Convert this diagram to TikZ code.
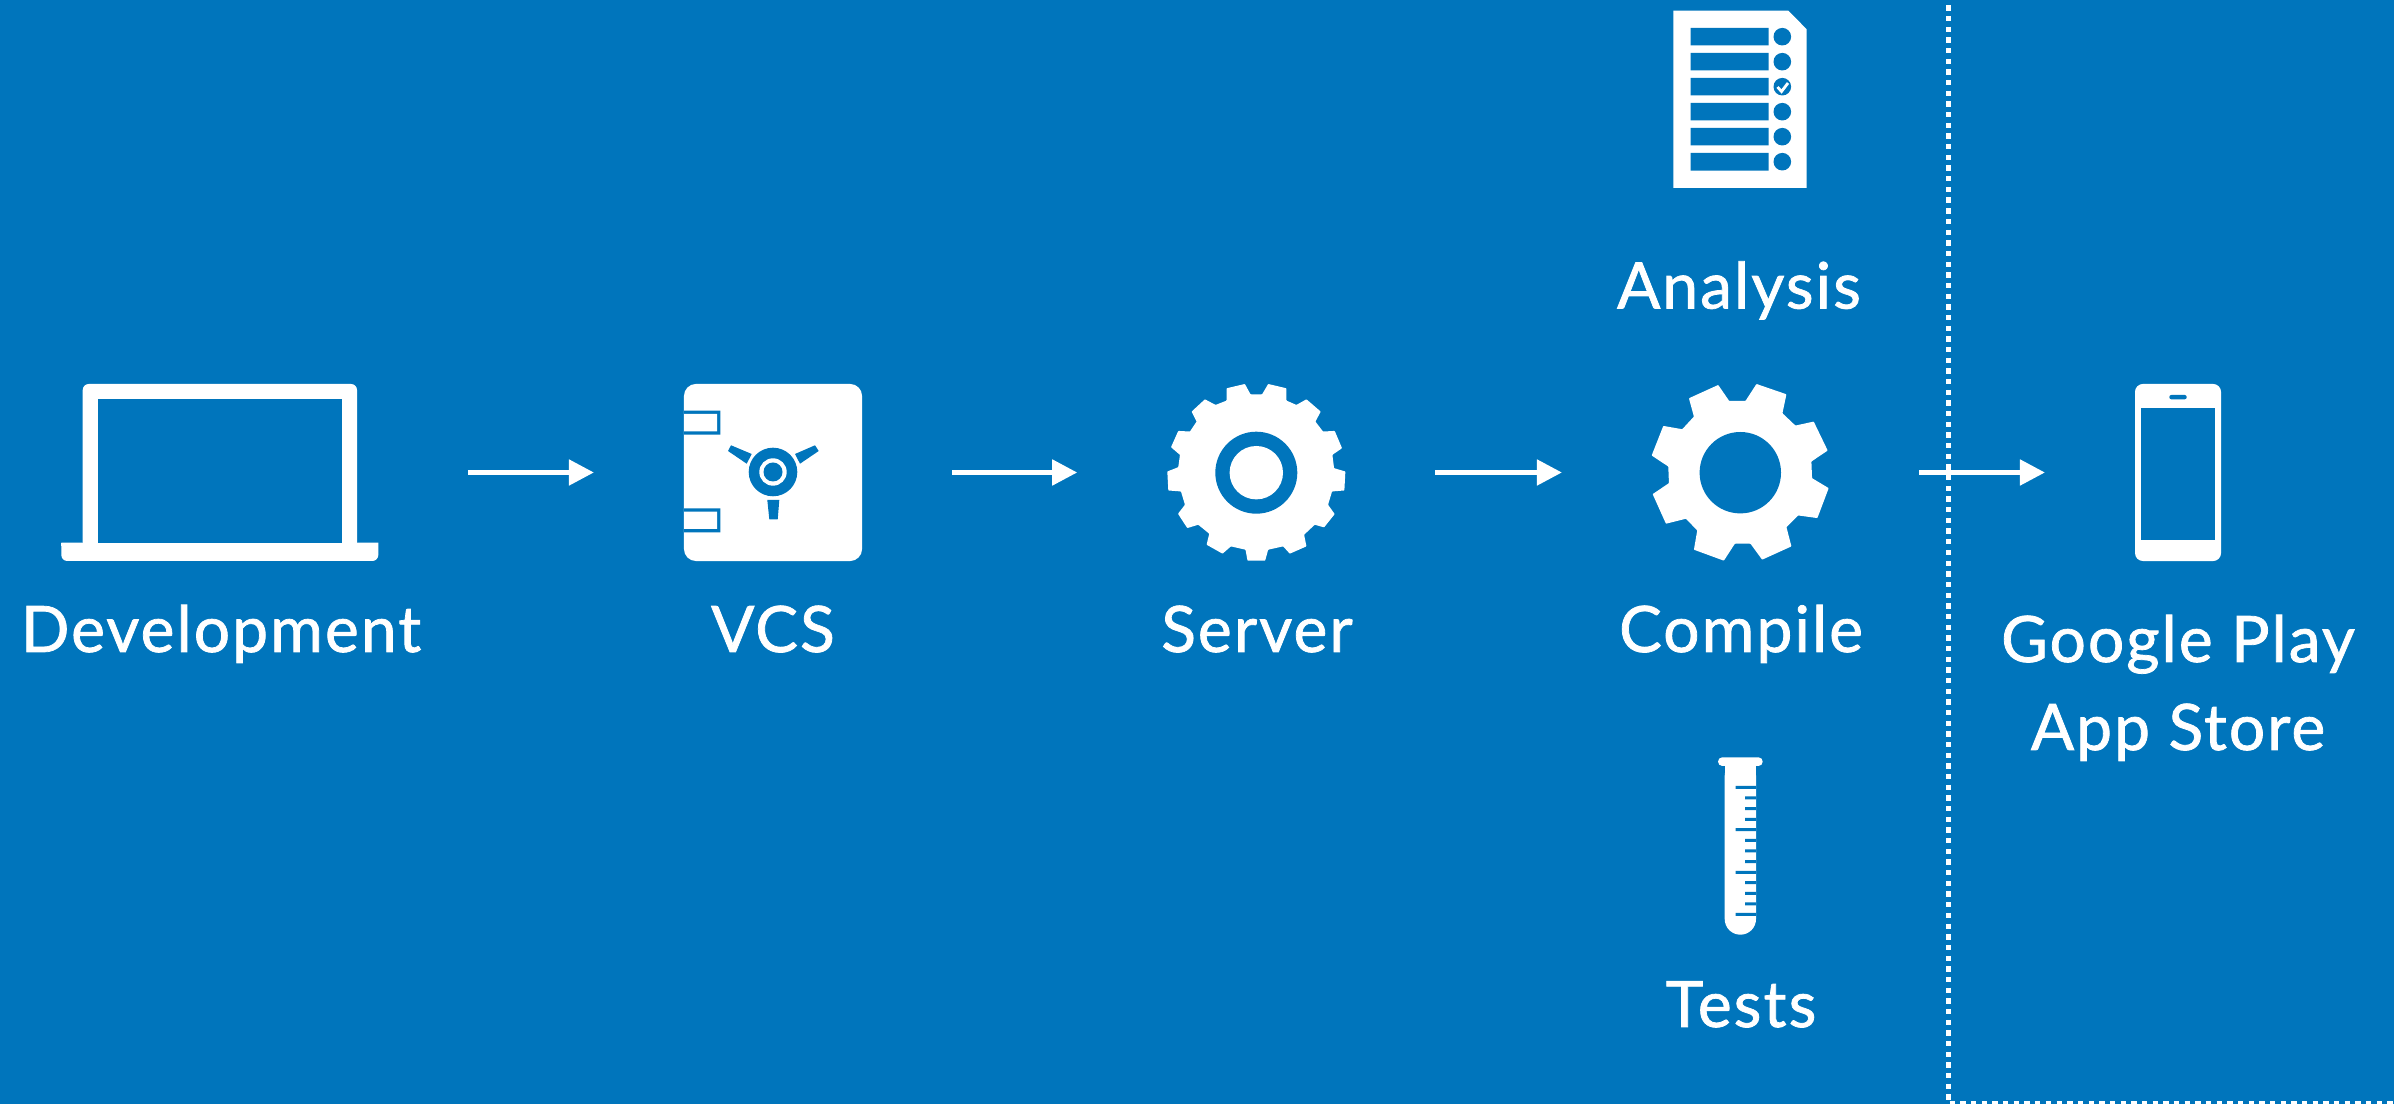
\documentclass[tikz,border=0pt]{standalone}
\usepackage{fontspec}
\setmainfont{Lato}[FakeBold=1.2,LetterSpace=3.3]
\usetikzlibrary{arrows.meta}

\definecolor{slideblue}{HTML}{0075BC}

\tikzset{
  iconbox/.style={inner sep=0pt,outer sep=0pt},
  caption/.style={text=white,font=\fontsize{18.2}{24}\selectfont,anchor=base,inner sep=0pt},
  flowarrow/.style={white,line width=0.05cm,shorten <=0.9cm,shorten >=0.9cm,
    -{Triangle[length=0.25cm,width=0.25cm]}}
}

\begin{document}
\begin{tikzpicture}[x=0.01cm,y=-0.01cm,line join=miter]
\fill[slideblue] (0,0) rectangle (2394,1104);
\useasboundingbox (0,0) rectangle (2394,1104);

% laptop
\node[iconbox,minimum width=3.17cm,minimum height=1.77cm] (laptop) at (219.8,472.5) {};
\fill[white,rounded corners=0.06cm] (82.7,542.7) -- (82.7,384) -- (357,384) -- (357,542.7);
\fill[white] (82.7,540) rectangle (357,545);
\fill[white,rounded corners=0.06cm] (61.3,542.7) -- (61.3,561) -- (378.3,561) -- (378.3,542.7);
\fill[white] (61.3,542.7) rectangle (378.3,546);
\fill[slideblue] (97.7,399.3) rectangle (342,542.7);

% safe
\node[iconbox,fill=white,rounded corners=0.12cm,minimum width=1.78cm,minimum height=1.77cm] (safe) at (773,472.5) {};
\fill[slideblue]
  (684,410.7) rectangle (720.3,434.7)
  (684,508.3) rectangle (720.3,532.3);
\fill[white]
  (684,414) rectangle (717,431.3)
  (684,511.7) rectangle (717,529);
\fill[slideblue] (773,472) circle[radius=24.3];
\fill[white] (773,472) circle[radius=13.7];
\fill[slideblue] (773,472) circle[radius=9.5];
\fill[slideblue]
  (731,445.3) -- (728,451) -- (746.7,463.7) -- (751.7,454) -- cycle
  (815,445.3) -- (818.7,451) -- (800,463.7) -- (795,454) -- cycle
  (767.3,500) -- (779.3,500) -- (777.7,519.3) -- (769.3,519.3) -- cycle;

% server gear
\node[iconbox,minimum width=1.78cm,minimum height=1.77cm] (servergear) at (1256.3,472.5) {};
\begin{scope}[shift={(1150,370)},x=0.00333cm,y=-0.00333cm]
\fill[white,rounded corners=0.006cm]
  (285,42) -- (302,73) -- (337,73) -- (355,42) -- (410,55) -- (410,92) -- (440,105) --
  (470,88) -- (513,125) -- (497,155) -- (520,185) -- (555,183) -- (577,235) -- (548,255) --
  (553,295) -- (587,305) -- (584,362) -- (547,365) -- (535,405) -- (555,433) -- (523,473) --
  (495,465) -- (463,495) -- (470,530) -- (420,552) -- (400,530) -- (355,540) -- (346,573) --
  (293,573) -- (287,540) -- (243,530) -- (218,552) -- (170,525) -- (178,492) -- (145,465) --
  (112,475) -- (84,432) -- (105,405) -- (93,365) -- (55,362) -- (52,305) -- (85,292) --
  (90,255) -- (63,232) -- (85,183) -- (120,185) -- (140,155) -- (125,125) -- (165,88) --
  (197,105) -- (230,92) -- (230,55) -- cycle;
\end{scope}
\fill[slideblue] (1256.3,472.7) circle[radius=41];
\fill[white] (1256.3,472.7) circle[radius=26.7];

% compile gear
\node[iconbox,minimum width=1.77cm,minimum height=1.77cm] (compilegear) at (1740.5,472.5) {};
\begin{scope}[shift={(1630,370)},x=0.00333cm,y=-0.00333cm]
\fill[white,rounded corners=0.006cm]
  (265,45) -- (298,93) -- (347,93) -- (380,42) -- (470,73) -- (458,130) -- (497,167) --
  (552,155) -- (594,242) -- (545,275) -- (547,325) -- (597,355) -- (563,445) -- (505,437) --
  (470,472) -- (485,530) -- (397,570) -- (362,522) -- (315,522) -- (282,573) -- (192,540) --
  (202,482) -- (168,447) -- (108,462) -- (68,373) -- (117,340) -- (115,290) -- (65,257) --
  (100,168) -- (157,178) -- (192,140) -- (177,85) -- cycle;
\end{scope}
\fill[slideblue] (1740.3,472.7) circle[radius=40.7];

% phone
\node[iconbox,fill=white,rounded corners=0.08cm,minimum width=0.86cm,minimum height=1.77cm] (phone) at (2178,472.5) {};
\fill[slideblue] (2140.7,408) rectangle (2215.3,540);
\fill[slideblue,rounded corners=0.02cm] (2169.3,395) rectangle (2186.7,399.3);

% checklist
\fill[white] (1673.3,10.7) -- (1788.3,10.7) -- (1806.7,29.3) -- (1806.7,188) -- (1673.3,188) -- cycle;
\fill[slideblue]
  (1690.7,28) rectangle (1768.7,45.3)
  (1690.7,53) rectangle (1768.7,70.3)
  (1690.7,78) rectangle (1768.7,95.3)
  (1690.7,103) rectangle (1768.7,120.3)
  (1690.7,128) rectangle (1768.7,145.3)
  (1690.7,153) rectangle (1768.7,170.7);
\fill[slideblue]
  (1782.3,36.7) circle[radius=8.8]
  (1782.3,61.7) circle[radius=8.8]
  (1782.3,86.7) circle[radius=8.8]
  (1782.3,111.7) circle[radius=8.8]
  (1782.3,136.7) circle[radius=8.8]
  (1782.3,161.7) circle[radius=8.8];
\draw[white,line width=0.028cm] (1777.5,87) -- (1781.5,91.5) -- (1788,83);

% test tube
\fill[white,rounded corners=0.156cm] (1724.7,760) -- (1724.7,934.7) -- (1756,934.7) -- (1756,760) -- cycle;
\fill[white] (1724.7,760) rectangle (1756,785);
\fill[white,rounded corners=0.043cm] (1718,757.3) rectangle (1762.7,766);
\fill[slideblue]
  (1735.7,785.8) rectangle (1756,788.8)
  (1745,796.5) rectangle (1756,799.5)
  (1745,807.2) rectangle (1756,810.2)
  (1745,817.8) rectangle (1756,820.8)
  (1735.7,828.2) rectangle (1756,831.2)
  (1745,838.8) rectangle (1756,841.8)
  (1745,849.5) rectangle (1756,852.5)
  (1745,860.2) rectangle (1756,863.2)
  (1735.7,870.8) rectangle (1756,873.8)
  (1745,881.2) rectangle (1756,884.2)
  (1745,891.8) rectangle (1756,894.8)
  (1745,902.5) rectangle (1756,905.5)
  (1735.7,912.8) rectangle (1756,915.8);

% store border
\draw[white,line width=0.053cm,dash pattern=on 0.0533cm off 0.0534cm]
  (1948.7,5.33) -- (1948.7,1104) -- (2394,1104);

% flow
\draw[flowarrow] (laptop) -- (safe);
\draw[flowarrow] (safe) -- (servergear);
\draw[flowarrow] (servergear) -- (compilegear);
\draw[flowarrow] (compilegear) -- (phone);

% captions
\node[caption] (development) at (221,652) {Development};
\node[caption] (vcs) at (773,652) {VCS};
\node[caption] (server) at (1257,652) {Server};
\node[caption] (compile) at (1741,652) {Compile};
\node[caption] (analysis) at (1739,308.5) {Analysis};
\node[caption] (tests) at (1741,1027) {Tests};
\node[caption] (googleplay) at (2178,662) {Google Play};
\node[caption] (appstore) at (2178,750) {App Store};
\end{tikzpicture}
\end{document}
